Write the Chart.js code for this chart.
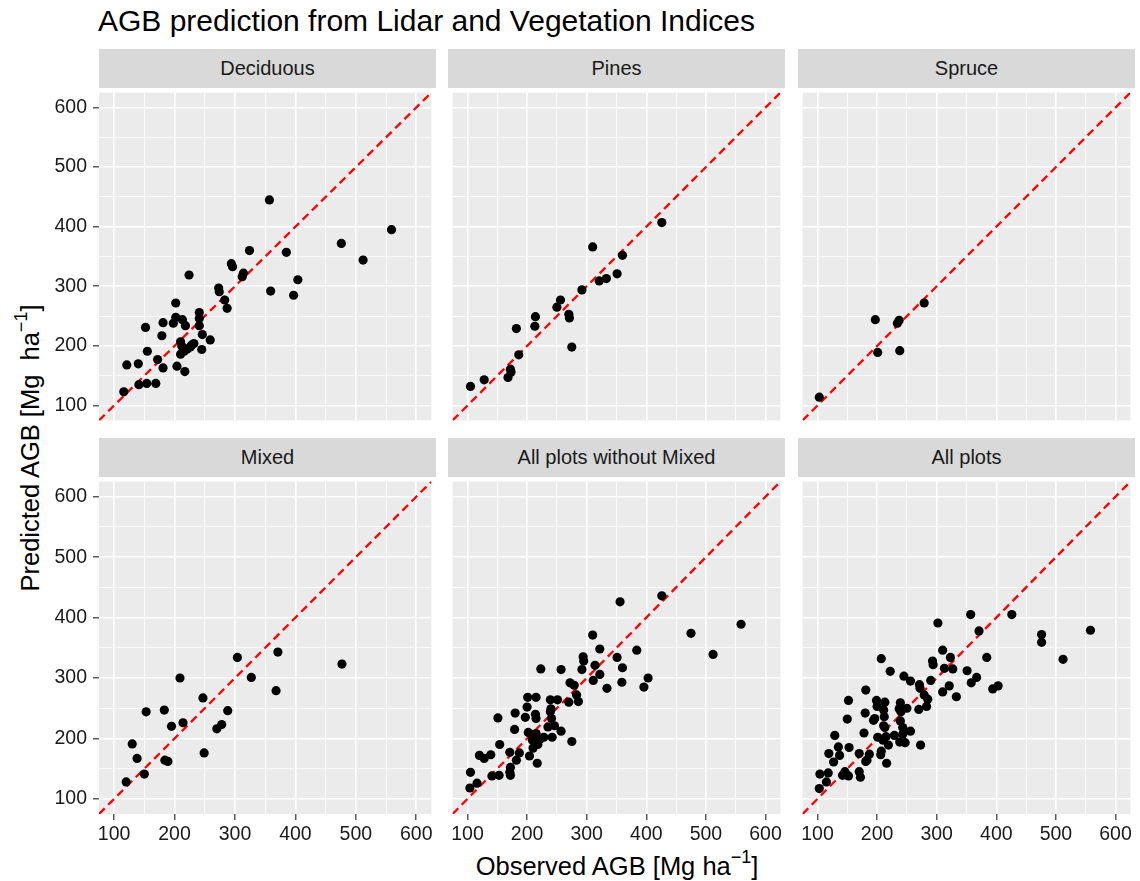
<!DOCTYPE html>
<html>
<head>
<meta charset="utf-8">
<script src="https://cdn.jsdelivr.net/npm/chart.js@4.4.0/dist/chart.umd.min.js"></script>
<style>
  body { margin: 0; width: 1140px; height: 881px; position: relative; overflow: hidden; background: #fff;
         font-family: "Liberation Sans", Arial, sans-serif; color: #000; }
  canvas { position: absolute; }
  .strip { position: absolute; background: #d9d9d9; color: #1a1a1a; font-size: 20px; text-align: center; }
  #title { position: absolute; left: 98px; top: 6px; font-size: 30px; line-height: 30px; white-space: nowrap; }
  #xtitle { position: absolute; left: 99px; width: 1036px; top: 853px; font-size: 25.5px; line-height: 26px; text-align: center; white-space: nowrap; }
  #ytitle { position: absolute; left: -270px; width: 600px; top: 435px; height: 26px; font-size: 25.5px; line-height: 26px;
            text-align: center; white-space: nowrap; transform: rotate(-90deg); transform-origin: 50% 50%; }
  .sup { font-size: 18px; position: relative; top: -12px; }
</style>
</head>
<body>
<div id="title">AGB prediction from Lidar and Vegetation Indices</div>
<div id="xtitle">Observed AGB [Mg ha<span class="sup">−1</span>]</div>
<div id="ytitle">Predicted AGB [Mg&nbsp; ha<span class="sup">−1</span>]</div>
<script>
// axis
const axisLimits = [75, 625];
const gridValues = [100, 150, 200, 250, 300, 350, 400, 450, 500, 550, 600];

// Deciduous
const decObs  = [357, 559, 476, 512, 324, 385, 294, 296, 224, 314, 312, 404, 273, 274, 359, 397, 283, 287, 202, 241,
                 241, 202, 213, 198, 218, 181, 152, 241, 179, 246, 259, 210, 212, 228, 221, 216, 210, 245, 155, 172,
                 181, 204, 217, 121, 140, 141, 154, 169, 116, 226, 232];
const decPred = [445, 395, 372, 344, 360, 357, 338, 333, 319, 322, 316, 311, 297, 291, 292, 285, 277, 263, 272, 256,
                 246, 248, 244, 238, 234, 239, 231, 234, 217, 219, 210, 207, 200, 201, 195, 191, 186, 194, 191, 177,
                 163, 166, 157, 168, 170, 135, 137, 137, 123, 198, 204];

// Pines
const pinObs  = [426, 310, 360, 351, 321, 333, 292, 256, 250, 214, 213, 270, 271, 275, 182, 186, 172, 173, 168, 128, 105];
const pinPred = [407, 366, 352, 321, 309, 313, 294, 277, 265, 249, 233, 253, 247, 198, 229, 185, 161, 156, 147, 143, 132];

// Spruce
const sprObs  = [279, 197, 237, 234, 201, 238, 103];
const sprPred = [272, 244, 243, 238, 189, 192, 114];

// Mixed
const mixObs  = [477, 371, 304, 327, 368, 209, 247, 288, 278, 270, 214, 195, 183, 153, 249, 130, 138, 184, 189, 150, 120];
const mixPred = [323, 343, 334, 301, 279, 300, 267, 246, 223, 216, 226, 220, 247, 244, 176, 191, 167, 164, 162, 141, 128];

// All plots without Mixed
const woObs  = [426, 356, 559, 475, 512, 310, 322, 384, 351, 294, 295, 223, 257, 292, 314, 322, 360, 311, 359, 403,
                396, 334, 272, 279, 283, 286, 270, 239, 251, 201, 215, 200, 197, 180, 151, 214, 215, 240, 241, 235,
                246, 257, 179, 202, 215, 228, 242, 209, 218, 210, 275, 154, 171, 187, 182, 204, 217, 120, 128, 139,
                172, 171, 172, 141, 153, 105, 116, 104, 239, 208, 222];
const woPred = [436, 426, 389, 374, 339, 371, 348, 346, 334, 335, 328, 315, 314, 314, 321, 306, 317, 296, 293, 300,
                285, 283, 292, 288, 272, 261, 260, 264, 264, 268, 268, 252, 235, 242, 234, 240, 233, 249, 233, 219,
                221, 212, 215, 210, 208, 202, 202, 197, 190, 184, 195, 190, 177, 176, 164, 171, 159, 172, 167, 173,
                152, 144, 139, 138, 139, 144, 126, 118, 244, 206, 199];

// All plots
const allObs  = [426, 357, 302, 371, 558, 476, 476, 512, 310, 323, 384, 293, 294, 207, 313, 327, 351, 222, 245, 256,
                 290, 271, 272, 321, 310, 358, 367, 333, 394, 403, 279, 285, 283, 270, 250, 239, 237, 199, 213, 200,
                 211, 152, 181, 180, 150, 196, 212, 239, 211, 243, 256, 178, 129, 201, 229, 238, 247, 210, 219, 273,
                 135, 153, 119, 137, 127, 170, 187, 181, 206, 216, 104, 118, 115, 103, 142, 152, 170, 172, 146, 207,
                 215, 194, 213, 243, 240, 183];
const allPred = [405, 405, 391, 378, 379, 372, 359, 331, 346, 334, 334, 328, 322, 332, 316, 315, 312, 311, 303, 295,
                 296, 289, 283, 287, 277, 292, 301, 269, 282, 287, 272, 265, 253, 248, 250, 259, 249, 263, 260, 253,
                 247, 263, 280, 242, 232, 233, 236, 229, 221, 218, 212, 209, 205, 202, 205, 194, 193, 197, 189, 189,
                 186, 185, 175, 172, 161, 175, 174, 162, 173, 159, 141, 143, 128, 117, 139, 138, 145, 136, 145, 179,
                 203, 230, 218, 207, 244, 164];

const panels = [
  { name: "Deciduous", obs: decObs, pred: decPred },
  { name: "Pines", obs: pinObs, pred: pinPred },
  { name: "Spruce", obs: sprObs, pred: sprPred },
  { name: "Mixed", obs: mixObs, pred: mixPred },
  { name: "All plots without Mixed", obs: woObs, pred: woPred },
  { name: "All plots", obs: allObs, pred: allPred },
];

Chart.defaults.font.family = '"Liberation Sans", Arial, sans-serif';

const colLeft = [99, 448, 798];
const rowTop = [88, 477];
const SIZE = 337;
const STRIP = 39;
const YAXW = 60;
const XAXH = 40;

const panelBg = {
  id: "panelBg",
  beforeDraw(chart) {
    const { ctx, chartArea: a } = chart;
    ctx.save();
    ctx.fillStyle = "#ebebeb";
    ctx.fillRect(a.left, a.top, a.right - a.left, a.bottom - a.top);
    ctx.restore();
  },
};

function isMajor(c) {
  return c.tick && c.tick.value % 100 === 0;
}

function makeAxis(show, horizontal) {
  return {
    type: "linear",
    min: axisLimits[0],
    max: axisLimits[1],
    afterBuildTicks: (s) => { s.ticks = gridValues.map((v) => ({ value: v })); },
    afterFit: (s) => {
      if (horizontal) { s.height = show ? XAXH : 0; s.paddingLeft = 0; s.paddingRight = 0; }
      else { s.width = show ? YAXW : 0; s.paddingTop = 0; s.paddingBottom = 0; }
    },
    border: { display: false },
    grid: {
      color: "#ffffff",
      lineWidth: (c) => (isMajor(c) ? 1.6 : 0.8),
      drawTicks: show,
      tickLength: 6,
      tickWidth: 1.2,
      tickColor: (c) => (isMajor(c) ? "#333333" : "rgba(0,0,0,0)"),
    },
    ticks: {
      display: show,
      padding: horizontal ? 3 : 6,
      color: "#1a1a1a",
      font: { size: 19.5 },
      autoSkip: false,
      maxRotation: 0,
      minRotation: 0,
      callback: (v) => (v % 100 === 0 ? String(v) : ""),
    },
  };
}

panels.forEach((p, i) => {
  const col = i % 3;
  const row = Math.floor(i / 3);
  const showY = col === 0;
  const showX = row === 1;

  const strip = document.createElement("div");
  strip.className = "strip";
  strip.textContent = p.name;
  strip.style.left = colLeft[col] + "px";
  strip.style.top = rowTop[row] - STRIP + "px";
  strip.style.width = SIZE + "px";
  strip.style.height = STRIP + "px";
  strip.style.lineHeight = STRIP + "px";
  document.body.appendChild(strip);

  const w = SIZE + (showY ? YAXW : 0);
  const h = SIZE + (showX ? XAXH : 0);
  const cv = document.createElement("canvas");
  cv.width = w;
  cv.height = h;
  cv.style.width = w + "px";
  cv.style.height = h + "px";
  cv.style.left = colLeft[col] - (showY ? YAXW : 0) + "px";
  cv.style.top = rowTop[row] + "px";
  document.body.appendChild(cv);

  new Chart(cv, {
    type: "scatter",
    data: {
      datasets: [
        {
          data: p.obs.map((x, k) => ({ x: x, y: p.pred[k] })),
          backgroundColor: "#000000",
          borderWidth: 0,
          pointRadius: 4.6,
        },
        {
          data: [{ x: axisLimits[0], y: axisLimits[0] }, { x: axisLimits[1], y: axisLimits[1] }],
          showLine: true,
          borderColor: "#ff0000",
          borderWidth: 2.3,
          borderDash: [8, 5],
          pointRadius: 0,
          clip: 0,
        },
      ],
    },
    options: {
      responsive: false,
      animation: false,
      events: [],
      layout: { padding: 0 },
      plugins: { legend: { display: false }, tooltip: { enabled: false } },
      scales: { x: makeAxis(showX, true), y: makeAxis(showY, false) },
    },
    plugins: [panelBg],
  });
});
</script>
</body>
</html>
